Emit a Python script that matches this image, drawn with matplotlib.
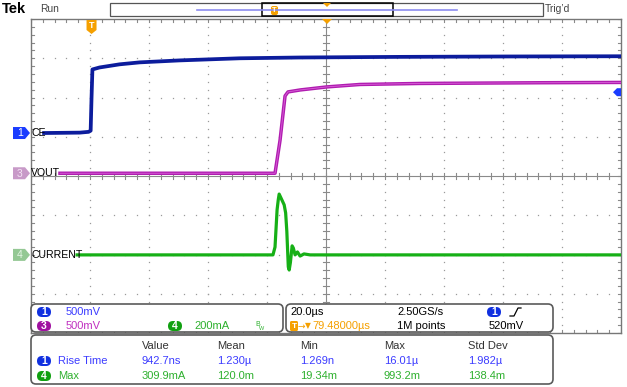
import matplotlib
matplotlib.use("Agg")
import matplotlib.pyplot as plt
from matplotlib.patches import FancyBboxPatch, Polygon, Rectangle

W, H = 627, 387

# ---- acquisition settings -------------------------------------------------
time_per_div = 20.0        # µs/div
trig_delay = 79.48         # µs, screen centre relative to trigger
ch1_scale, ch1_offset = 0.5, 1.095    # V/div, div
ch3_scale, ch3_offset = 0.5, 0.07     # V/div, div
ch4_scale, ch4_offset = 200.0, -2.01  # mA/div, div
trig_level = 0.52                     # V on ch1

# ---- waveforms (time in µs from trigger) ----------------------------------
ce_t = [-16.1, -4.0, -1.0, -0.3, 0.0, 0.3, 2.7, 9.5, 16.3, 29.8, 50.2, 70.5, 104.4, 140.0, 179.5]
ce_v = [0.0, 0.005, 0.015, 0.03, 0.45, 0.81, 0.835, 0.875, 0.90, 0.925, 0.952, 0.962, 0.970, 0.975, 0.978]

vout_t = [-10.7, 62.2, 63.9, 65.6, 66.6, 70.7, 79.8, 91.0, 111.4, 152.0, 179.5]
vout_v = [0.0, 0.0, 0.42, 0.985, 1.036, 1.061, 1.10, 1.131, 1.144, 1.153, 1.157]

cur_t = [-4.9, 61.5, 62.2, 62.9, 63.3, 63.6, 64.5, 65.3, 65.8, 66.2, 66.7, 67.0, 67.4,
         68.0, 68.4, 69.0, 69.8, 70.7, 72.0, 74.1, 179.5]
cur_ma = [0.0, 0.0, 40.0, 230.0, 281.0, 309.9, 281.0, 255.0, 214.0, 120.0, -61.0, -77.0, -40.0,
          46.0, 35.0, 0.0, 15.0, -6.0, 5.0, 0.0, 0.0]

# ---- readouts ---------------------------------------------------------------
meas_cols = ["Value", "Mean", "Min", "Max", "Std Dev"]
rise_row = ["942.7ns", "1.230µ", "1.269n", "16.01µ", "1.982µ"]
max_row = ["309.9mA", "120.0m", "19.34m", "993.2m", "138.4m"]

BLUE_TR = "#0c1c9c"
MAG_TR = "#b01cb0"
GRN_TR = "#16b016"
BLUE_TX = "#3c3cff"
MAG_TX = "#c030c0"
GRN_TX = "#2eb02e"
ORANGE = "#f5a000"
GRID = "#9a9a9a"
FONT = ["Liberation Sans Narrow", "Liberation Sans", "DejaVu Sans"]
FS = 8.0

fig = plt.figure(figsize=(W / 100, H / 100), dpi=100)
fig.patch.set_facecolor("white")

# ---- graticule ----------------------------------------------------------------
left_px, right_px, top_px, bot_px = 31, 621, 19, 333
sc = fig.add_axes([left_px / W, 1 - bot_px / H, (right_px - left_px) / W, (bot_px - top_px) / H])
x0 = trig_delay - 5 * time_per_div
x1 = trig_delay + 5 * time_per_div
sc.set_xlim(x0, x1)
sc.set_ylim(-4, 4)
sc.set_xticks([])
sc.set_yticks([])
for s in sc.spines.values():
    s.set_color("#777777")
    s.set_linewidth(1.0)

sub_x = [x0 + i * time_per_div / 5 for i in range(51)]
sub_y = [-4 + i * 0.2 for i in range(41)]
# dotted division lines
for k in range(1, 10):
    if k == 5:
        continue
    xv = x0 + k * time_per_div
    sc.plot([xv] * len(sub_y), sub_y, ls="none", marker="s", ms=0.9, color=GRID, mew=0)
for j in range(-3, 4):
    if j == 0:
        continue
    sc.plot(sub_x, [j] * len(sub_x), ls="none", marker="s", ms=0.9, color=GRID, mew=0)
# centre cross with minor ticks
sc.axhline(0, color="#8a8a8a", lw=0.8)
sc.axvline(trig_delay, color="#8a8a8a", lw=0.8)
tick_y = 0.08
tick_x = 0.9
for xv in sub_x:
    sc.plot([xv, xv], [-tick_y, tick_y], color="#8a8a8a", lw=0.8)
    sc.plot([xv, xv], [4, 4 - tick_y], color="#8a8a8a", lw=0.8)
    sc.plot([xv, xv], [-4, -4 + tick_y], color="#8a8a8a", lw=0.8)
for yv in sub_y:
    sc.plot([trig_delay - tick_x, trig_delay + tick_x], [yv, yv], color="#8a8a8a", lw=0.8)
    sc.plot([x0, x0 + tick_x], [yv, yv], color="#8a8a8a", lw=0.8)
    sc.plot([x1, x1 - tick_x], [yv, yv], color="#8a8a8a", lw=0.8)

# traces
sc.plot(ce_t, [v / ch1_scale + ch1_offset for v in ce_v], color=BLUE_TR, lw=2.7,
        solid_joinstyle="round", zorder=5)
sc.plot(vout_t, [v / ch3_scale + ch3_offset for v in vout_v], color=MAG_TR, lw=2.5,
        solid_joinstyle="round", zorder=5)
sc.plot(vout_t, [v / ch3_scale + ch3_offset for v in vout_v], color="#d860d8", lw=0.6, zorder=6)
sc.plot(cur_t, [v / ch4_scale + ch4_offset for v in cur_ma], color=GRN_TR, lw=2.3,
        solid_joinstyle="round", zorder=5)

# ---- overlay in pixel space ---------------------------------------------------
ax = fig.add_axes([0, 0, 1, 1], zorder=5)
ax.set_xlim(0, W)
ax.set_ylim(H, 0)
ax.axis("off")
ax.patch.set_alpha(0)


def txt(x, y, s, color="black", size=FS, ha="left", weight="normal", **kw):
    ax.text(x, y, s, color=color, fontsize=size, ha=ha, va="center",
            family=FONT, fontweight=weight, **kw)


def badge(x, y, n, color, w=14, h=10, tc="white"):
    ax.add_patch(FancyBboxPatch((x - w / 2, y - h / 2), w, h,
                                boxstyle=f"round,pad=0,rounding_size={h / 2}",
                                fc=color, ec="none"))
    ax.text(x, y + 0.3, n, color=tc, fontsize=7.5, ha="center", va="center",
            family=FONT, fontweight="bold")


def ch_marker(y, n, fc, tc):
    ax.add_patch(Polygon([(13, y - 6), (25, y - 6), (30, y), (25, y + 6), (13, y + 6)],
                         closed=True, fc=fc, ec="none"))
    ax.text(20, y + 0.3, n, color=tc, fontsize=7.5, ha="center", va="center", family=FONT)


def px_y(div):
    return top_px + (4 - div) * (bot_px - top_px) / 8


# header bar
txt(2, 9, "Tek", size=10.5, weight="bold")
txt(40, 9, "Run", color="#444444", size=7.4)
ax.add_patch(Rectangle((110, 3), 433, 13, fc="white", ec="#555555", lw=0.9))
ax.plot([197, 457], [10, 10], color="#8c8cf0", lw=1.2)
ax.add_patch(Rectangle((262, 3), 131, 13, fc="none", ec="black", lw=1.1))
ax.add_patch(FancyBboxPatch((271, 6), 7, 9, boxstyle="round,pad=0,rounding_size=2",
                            fc=ORANGE, ec="none"))
ax.text(274.5, 10.5, "T", color="white", fontsize=5.5, ha="center", va="center",
        family=FONT, fontweight="bold")
ax.add_patch(Polygon([(323, 3), (331, 3), (327, 7)], closed=True, fc=ORANGE, ec="none"))
txt(545, 9, "Trig\u2019d", color="#444444", size=7.4)

# trigger position and delay markers
ax.add_patch(Polygon([(322, 19), (332, 19), (327, 24)], closed=True, fc=ORANGE, ec="none"))
tpx = left_px + (0 - x0) / time_per_div * (right_px - left_px) / 10
ax.add_patch(Polygon([(tpx - 5, 20), (tpx + 5, 20), (tpx + 5, 30), (tpx, 34), (tpx - 5, 30)],
                     closed=True, fc=ORANGE, ec="none", joinstyle="round"))
ax.text(tpx, 26, "T", color="white", fontsize=6.5, ha="center", va="center",
        family=FONT, fontweight="bold")

# trigger level arrow on the right edge
ty = px_y(trig_level / ch1_scale + ch1_offset)
ax.add_patch(Polygon([(613, ty), (617, ty - 4), (621, ty - 4), (621, ty + 4), (617, ty + 4)],
                     closed=True, fc="#1a3cff", ec="none"))

# channel ground markers and names
ch_marker(px_y(ch1_offset), "1", "#1a3cff", "white")
txt(31, px_y(ch1_offset), "CE", size=7.6)
ch_marker(px_y(ch3_offset), "3", "#c89ac8", "#f4e4f4")
txt(31, px_y(ch3_offset), "VOUT", size=7.6)
ch_marker(px_y(ch4_offset), "4", "#94c894", "#e4f4e4")
txt(31, px_y(ch4_offset), "CURRENT", size=7.6)

# ---- readout boxes ------------------------------------------------------------
def rbox(x, y, w, h):
    ax.add_patch(FancyBboxPatch((x, y), w, h, boxstyle="round,pad=0,rounding_size=5",
                                fc="white", ec="#5a5a5a", lw=1.2))


rbox(31, 304, 252, 28)
rbox(286, 304, 267, 28)
rbox(31, 335, 522, 49)

# vertical settings
badge(44, 312, "1", "#1030e0")
txt(66, 312, "500mV", color=BLUE_TX)
badge(44, 326, "3", "#a010a0")
txt(66, 326, "500mV", color=MAG_TX)
badge(175, 326, "4", "#10a010")
txt(194, 326, "200mA", color=GRN_TX)
txt(255, 325, "B", color=GRN_TX, size=5)
txt(259, 328, "W", color=GRN_TX, size=4)

# horizontal / trigger settings
txt(290, 312, "20.0µs")
txt(397, 312, "2.50GS/s")
badge(494, 312, "1", "#1030e0")
ax.plot([510, 514, 518, 521], [316, 316, 308, 308], color="black", lw=0.9)
ax.add_patch(FancyBboxPatch((290, 321), 8, 10, boxstyle="round,pad=0,rounding_size=1.5",
                            fc=ORANGE, ec="none"))
ax.text(294, 326.3, "T", color="white", fontsize=6, ha="center", va="center",
        family=FONT, fontweight="bold")
ax.text(298, 326, "\u2192", color=ORANGE, fontsize=6.5, ha="left", va="center", family="DejaVu Sans")
ax.text(305, 326, "\u25bc", color=ORANGE, fontsize=5.5, ha="left", va="center", family="DejaVu Sans")
txt(312, 326, "79.48000µs", color=ORANGE)
txt(397, 326, "1M points")
txt(489, 326, "520mV")

# measurements
col_x = [142, 217, 300, 384, 468]
for cx, c in zip(col_x, meas_cols):
    txt(cx, 346, c, color="#333333")
badge(44, 361, "1", "#1030e0")
txt(58, 361, "Rise Time", color=BLUE_TX)
for cx, v in zip(col_x, rise_row):
    txt(cx, 361, v, color=BLUE_TX)
badge(44, 376, "4", "#10a010")
txt(58, 376, "Max", color=GRN_TX)
for cx, v in zip(col_x, max_row):
    txt(cx, 376, v, color=GRN_TX)

fig.savefig("out.png", dpi=100)
